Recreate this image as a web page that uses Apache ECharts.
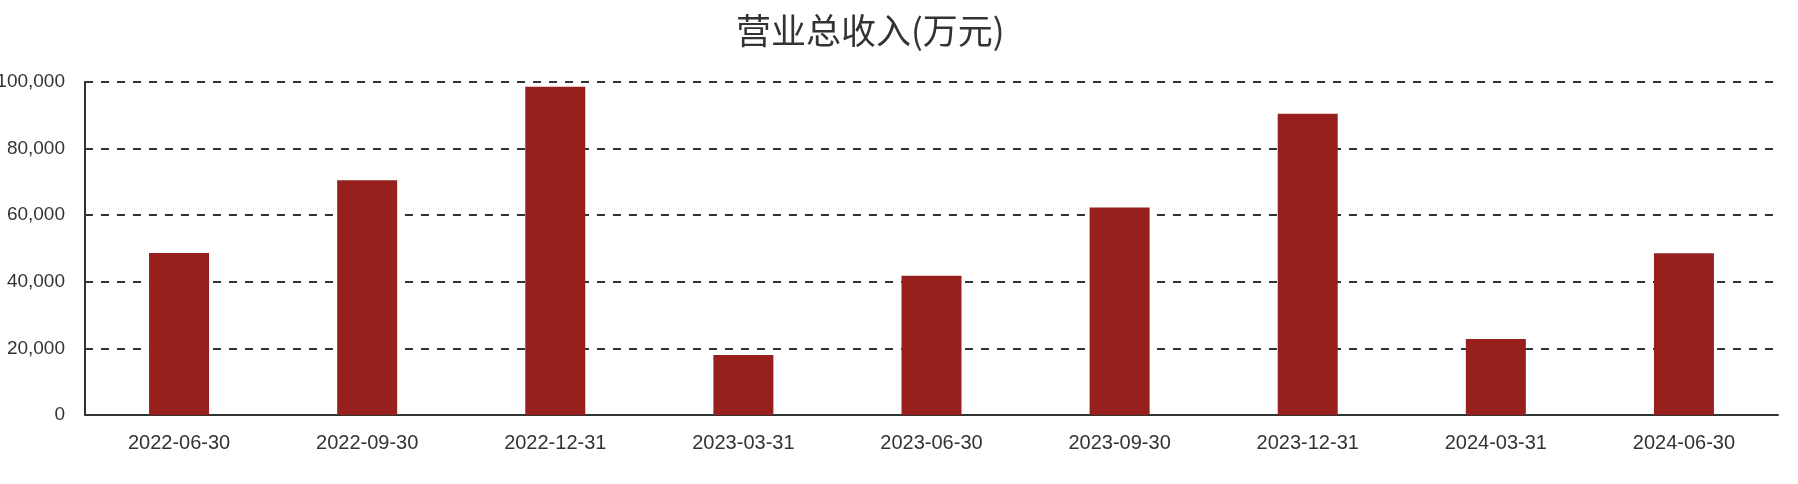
<!DOCTYPE html>
<html>
<head>
<meta charset="utf-8">
<script src="https://cdn.jsdelivr.net/npm/echarts@6/dist/echarts.min.js"></script>
<style>
  html, body { margin: 0; padding: 0; background: #fff; }
  #main { width: 1798px; height: 484px; }
</style>
</head>
<body>
<div id="main"></div>
<script>
// 营业总收入 by report date
const reportDates = [
  "2022-06-30", "2022-09-30", "2022-12-31",
  "2023-03-31", "2023-06-30", "2023-09-30",
  "2023-12-31", "2024-03-31", "2024-06-30",
];
const revenue = [48650, 70500, 98600, 18000, 41800, 62300, 90500, 22850, 48600];
const yTicks = [0, 20000, 40000, 60000, 80000, 100000];

const labelFont = '"Liberation Sans", Arial, Helvetica, sans-serif';

const chartDom = document.getElementById("main");
const myChart = echarts.init(chartDom);
const option = {
  animation: false,
  title: {
    text: "营业总收入(万元)",
    left: 731,
    top: 8,
    textStyle: {
      color: "#333",
      fontSize: 35,
      fontWeight: "normal",
      fontFamily: '"Noto Sans CJK SC", sans-serif',
    },
  },
  grid: {
    left: 85,
    right: 20,
    top: 82,
    bottom: 69,
    containLabel: false,
    outerBoundsMode: "none",
  },
  xAxis: {
    type: "category",
    data: reportDates,
    axisLine: { show: true, lineStyle: { color: "#333", width: 2 } },
    axisTick: { show: false },
    axisLabel: {
      color: "#333",
      fontSize: 20,
      fontFamily: labelFont,
      margin: 18,
    },
  },
  yAxis: {
    type: "value",
    min: yTicks[0],
    max: yTicks[yTicks.length - 1],
    interval: yTicks[1] - yTicks[0],
    axisLine: { show: true, lineStyle: { color: "#333", width: 2 } },
    axisTick: { show: false },
    axisLabel: {
      color: "#333",
      fontSize: 19,
      fontFamily: labelFont,
      margin: 20,
      formatter: (v) => v.toLocaleString("en-US"),
    },
    splitLine: {
      show: true,
      lineStyle: { color: "#333", width: 2, type: [8, 8] },
    },
  },
  series: [
    {
      type: "bar",
      data: revenue,
      barWidth: 60,
      itemStyle: { color: "#97201f" },
    },
  ],
};
myChart.setOption(option);
</script>
</body>
</html>
